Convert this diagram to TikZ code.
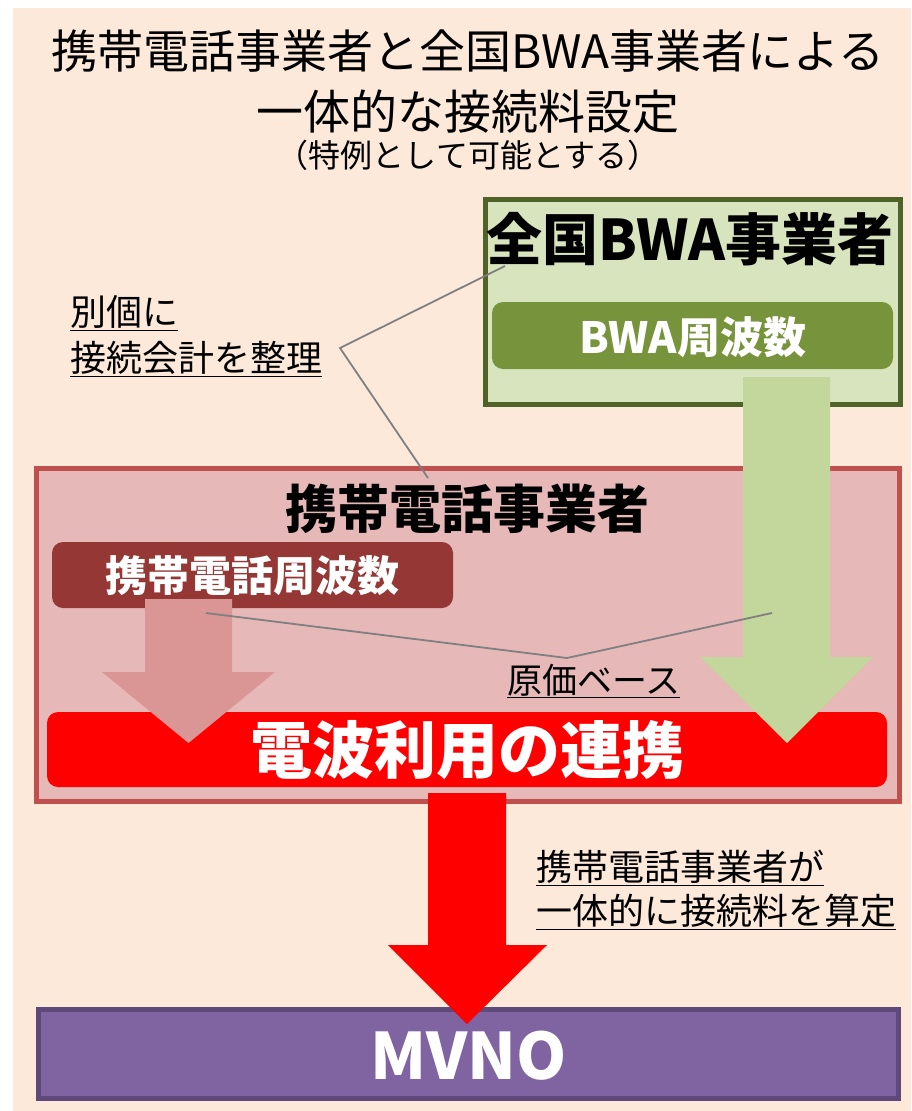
\documentclass[tikz,border=0pt]{standalone}
\usepackage{fontspec}
\setmainfont{Noto Sans CJK JP}
\usetikzlibrary{calc}
\definecolor{bgpeach}{HTML}{FDE9D9}
\definecolor{grfill}{HTML}{D7E4BD}
\definecolor{grline}{HTML}{4F6228}
\definecolor{grinner}{HTML}{77933C}
\definecolor{grarrow}{HTML}{C3D69B}
\definecolor{pkfill}{HTML}{E6B9B8}
\definecolor{pkline}{HTML}{C0504D}
\definecolor{dkred}{HTML}{953735}
\definecolor{pkarrow}{HTML}{D99694}
\definecolor{brred}{HTML}{FF0000}
\definecolor{ppfill}{HTML}{8064A2}
\definecolor{ppline}{HTML}{5F497A}
\definecolor{callout}{HTML}{808080}
\newcommand\fsz[2]{\fontsize{#1}{#2}\selectfont}
\begin{document}
\begin{tikzpicture}[x=1pt,y=-1pt,
  box/.style={rectangle, inner sep=0pt, outer sep=0pt},
  tag/.style={box, rounded corners=11pt},
  calloutline/.style={draw=callout, line width=1.8pt},
  txt/.style={inner sep=0pt, outer sep=0pt, text=black}]
\useasboundingbox (0,0) rectangle (911,1111);
\fill[white] (0,0) rectangle (911,1111);
\fill[bgpeach] (13,8) rectangle (911,1111);

% title
\node[txt, font=\fsz{46}{50}] (t1) at (468,51) {携帯電話事業者と全国BWA事業者による};
\node[txt, font=\fsz{47}{50}] (t2) at (468,112) {一体的な接続料設定};
\node[txt, font=\fsz{32}{36}] (t3) at (468,155) {（特例として可能とする）};

% boxes
\node[box, draw=grline, fill=grfill, line width=5pt, minimum width=415pt, minimum height=205pt] (bwa) at (693,302) {};
\node[tag, fill=grinner, minimum width=401pt, minimum height=67pt] (bwaf) at (692.5,335.5) {};
\node[box, draw=pkline, fill=pkfill, line width=4.5pt, minimum width=863pt, minimum height=333pt] (mob) at (468,635) {};
\node[tag, fill=dkred, minimum width=401pt, minimum height=66pt] (mobf) at (252.5,575) {};
\node[tag, fill=brred, minimum width=840pt, minimum height=75pt] (link) at (467,749.5) {};
\node[box, draw=ppline, fill=ppfill, line width=5pt, minimum width=860pt, minimum height=89pt] (mvno) at (468.5,1054) {};

% arrows
\fill[grarrow] (743,377) -- (830,377) -- (830,657) -- (873,657) -- (787,743) -- (700,657) -- (743,657) -- cycle;
\fill[pkarrow] (145,599) -- (232,599) -- (232,672) -- (275,672) -- (188.5,743) -- (102,672) -- (145,672) -- cycle;
\fill[brred] (428,793) -- (506,793) -- (506,945) -- (547,945) -- (467,1024) -- (388,945) -- (428,945) -- cycle;

% callout lines
\coordinate (c1a) at (505,266);
\coordinate (c1b) at (340,348);
\coordinate (c1c) at (428,478);
\draw[calloutline] (c1a) -- (c1b) -- (c1c);
\coordinate (c2a) at (206,613);
\coordinate (c2b) at (567,658);
\coordinate (c2c) at (772,613);
\draw[calloutline] (c2a) -- (c2b) -- (c2c);

% texts
\node[txt, font=\fsz{56}{60}\bfseries] (bwat) at (690,239) {全国BWA事業者};
\node[txt, font=\fsz{43}{46}\bfseries, text=white] (bwaft) at (692.5,337) {BWA周波数};
\node[txt, font=\fsz{52}{56}\bfseries] (mobt) at (467,509) {携帯電話事業者};
\node[txt, font=\fsz{42}{46}\bfseries, text=white] (mobft) at (252.5,576) {携帯電話周波数};
\node[txt, font=\fsz{62}{66}\bfseries, text=white] (linkt) at (467,750) {電波利用の連携};
\node[txt, font=\fsz{64}{68}\bfseries, text=white] (mvnot) at (468.5,1056) {MVNO};

\node[txt, font=\fsz{36}{46}, align=left, anchor=west] (sep) at (70,336) {\underline{別個に}\\\underline{接続会計を整理}};
\node[txt, font=\fsz{35}{40}, anchor=west] (cost) at (507,681) {\underline{原価ベース}};
\node[txt, font=\fsz{36}{44}, align=left, anchor=west] (calc) at (536,890) {\underline{携帯電話事業者が}\\\underline{一体的に接続料を算定}};
\end{tikzpicture}
\end{document}
